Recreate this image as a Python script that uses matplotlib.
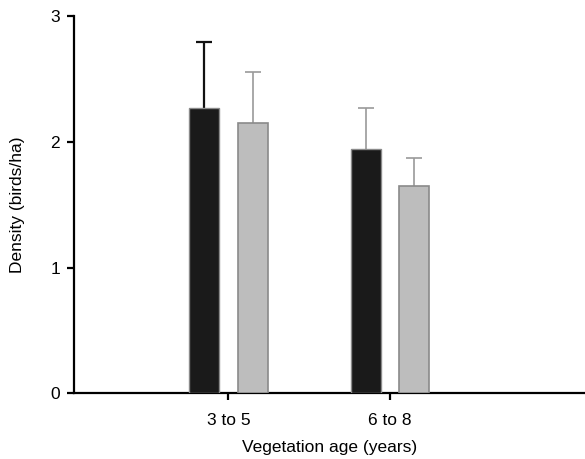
import matplotlib.pyplot as plt
import numpy as np

plt.rcParams["font.family"] = ["Liberation Sans", "DejaVu Sans"]

categories = ["3 to 5", "6 to 8"]
black_vals = [2.27, 1.94]
black_err = [0.52, 0.33]
gray_vals = [2.15, 1.65]
gray_err = [0.40, 0.22]

x = np.arange(len(categories))
width = 0.185
offset = 0.15

fig = plt.figure(figsize=(5.85, 4.59), dpi=100)
ax = fig.add_axes([0.1265, 0.1431, 0.8735, 0.8223])

ax.bar(x - offset, black_vals, width, color="#1a1a1a", edgecolor="#8a8a8a",
       linewidth=1.0, zorder=3)
ax.bar(x + offset, gray_vals, width, color="#bdbdbd", edgecolor="#8a8a8a",
       linewidth=1.2, zorder=3)

# error bars drawn symmetric behind the bars so only the upper half shows
for i in range(len(categories)):
    first = i == 0
    ax.errorbar(x[i] - offset, black_vals[i], yerr=black_err[i], fmt="none",
                ecolor="#111111" if first else "#9a9a9a",
                elinewidth=1.6 if first else 1.2, capsize=6,
                capthick=1.6 if first else 1.2, zorder=1)
    ax.errorbar(x[i] + offset, gray_vals[i], yerr=gray_err[i], fmt="none",
                ecolor="#9a9a9a", elinewidth=1.2, capsize=6, capthick=1.2, zorder=1)

ax.set_xlim(-0.955, 2.205)
ax.set_ylim(0, 3)
ax.set_yticks([0, 1, 2, 3])
ax.set_xticks(x)
ax.set_xticklabels(categories)

for side in ["top", "right"]:
    ax.spines[side].set_visible(False)
for side in ["left", "bottom"]:
    ax.spines[side].set_linewidth(1.6)

ax.tick_params(axis="both", direction="out", length=5, width=1.6, labelsize=12.5)
ax.tick_params(axis="x", pad=9)
ax.tick_params(axis="y", pad=5)

ax.set_xlabel("Vegetation age (years)", fontsize=12.5, labelpad=9)
ax.set_ylabel("Density (birds/ha)", fontsize=12.5, labelpad=18)

fig.savefig("out.png", dpi=100)
